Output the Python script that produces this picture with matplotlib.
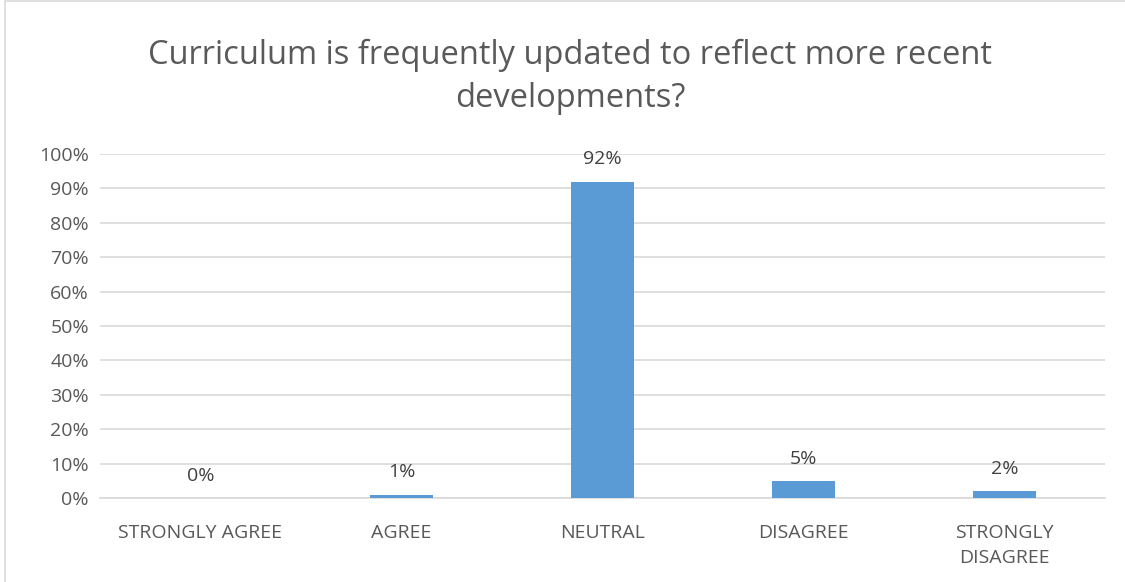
import matplotlib
matplotlib.use('Agg')
import matplotlib.pyplot as plt
from matplotlib.ticker import PercentFormatter
from matplotlib.patches import Rectangle

categories = ["STRONGLY AGREE", "AGREE", "NEUTRAL", "DISAGREE", "STRONGLY\nDISAGREE"]
values = [0, 1, 92, 5, 2]
yticks = list(range(0, 101, 10))

text_color = "#595959"
bar_color = "#5B9BD5"
grid_color = "#D9D9D9"

plt.rcParams['font.family'] = ['Open Sans', 'DejaVu Sans']

fig = plt.figure(figsize=(11.25, 5.82), dpi=100)
ax = fig.add_axes([100 / 1125, 1 - 498 / 582, 1005 / 1125, 344 / 582])

x = range(len(categories))
bars = ax.bar(x, values, width=0.31, color=bar_color, zorder=3)

for b, v in zip(bars, values):
    ax.text(b.get_x() + b.get_width() / 2, v + 3.8, f"{v}%", ha="center", va="bottom",
            fontsize=14, color="#404040")

ax.set_xlim(-0.5, len(categories) - 0.5)
ax.set_ylim(0, 100)
ax.set_yticks(yticks)
ax.yaxis.set_major_formatter(PercentFormatter(decimals=0))
ax.set_xticks(list(x))
ax.set_xticklabels(categories, linespacing=1.45)
ax.grid(axis="y", color=grid_color, linewidth=1.2, zorder=0)
ax.tick_params(axis="both", length=0, colors=text_color, labelsize=14)
ax.tick_params(axis="x", pad=19)
ax.tick_params(axis="y", pad=8)
for s in ["top", "right", "left"]:
    ax.spines[s].set_visible(False)
ax.spines["bottom"].set_color(grid_color)
ax.spines["bottom"].set_linewidth(1.2)

fig.text(570 / 1125, 1 - 77 / 582, "Curriculum is frequently updated to reflect more recent\ndevelopments?",
         ha="center", va="center", fontsize=23.5, color=text_color, linespacing=1.38)

fig.patches.append(Rectangle((5 / 1125, -0.01), 1.1, 1.0 - 1 / 582 + 0.01, transform=fig.transFigure,
                             fill=False, edgecolor=grid_color, linewidth=1.2))

fig.savefig("out.png", dpi=100)
